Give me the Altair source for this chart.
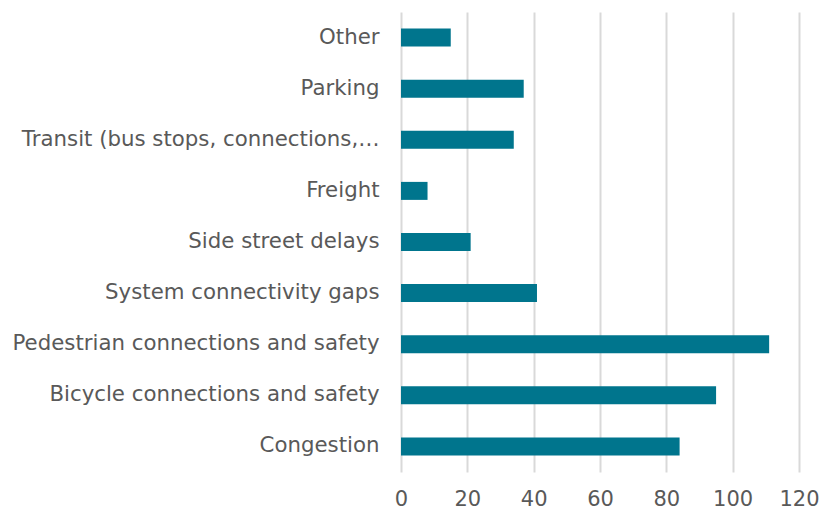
import altair as alt
import pandas as pd

categories = [
    "Other",
    "Parking",
    "Transit (bus stops, connections,…",
    "Freight",
    "Side street delays",
    "System connectivity gaps",
    "Pedestrian connections and safety",
    "Bicycle connections and safety",
    "Congestion",
]
values = [15, 37, 34, 8, 21, 41, 111, 95, 84]
x_ticks = [0, 20, 40, 60, 80, 100, 120]

df = pd.DataFrame({"category": categories, "value": values})

chart = (
    alt.Chart(df)
    .mark_bar(size=18, color="#00758D")
    .encode(
        x=alt.X(
            "value:Q",
            scale=alt.Scale(domain=[0, 120], nice=False),
            axis=alt.Axis(
                values=x_ticks,
                title=None,
                grid=True,
                gridColor="#D9D9D9",
                gridWidth=2,
                domain=False,
                ticks=False,
                labelFontSize=21,
                labelColor="#595959",
                labelFont="DejaVu Sans",
                labelPadding=16,
                labelFlush=False,
            ),
        ),
        y=alt.Y(
            "category:N",
            sort=categories,
            scale=alt.Scale(paddingInner=0.65, paddingOuter=0.325),
            axis=alt.Axis(
                title=None,
                domain=False,
                ticks=False,
                labelFontSize=21.3,
                labelColor="#595959",
                labelFont="DejaVu Sans",
                labelPadding=22,
                labelLimit=400,
            ),
        ),
    )
    .properties(
        width=398,
        height=460,
        autosize=alt.AutoSizeParams(type="none"),
        padding={"left": 393, "top": 4, "right": 20, "bottom": 40},
    )
    .configure_view(stroke=None)
)

chart.save("out.html", embed_options={"renderer": "svg", "actions": False})
